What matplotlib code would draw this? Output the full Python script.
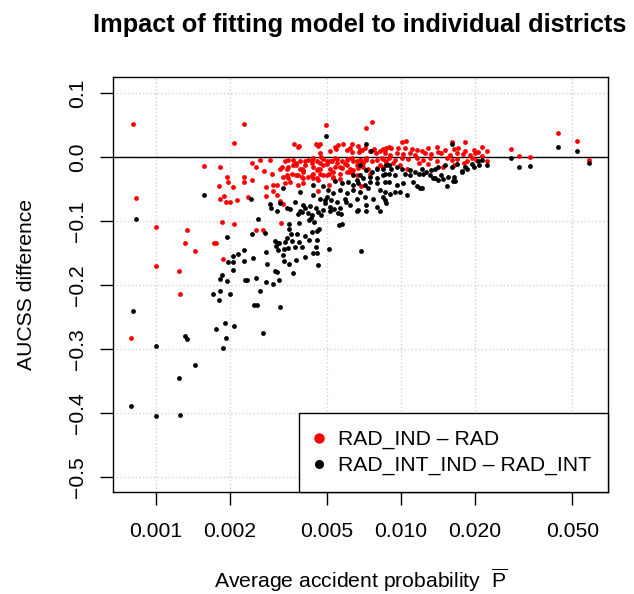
import numpy as np
import matplotlib
matplotlib.use("Agg")
import matplotlib.pyplot as plt
from matplotlib.lines import Line2D

# ------------------------------------------------------------
# Data (average accident probability given in 1/1000, AUCSS difference)
# ------------------------------------------------------------
red_p = [
    0.81, 2.30, 2.08, 4.93, 0.83, 1.57, 1.83, 1.95, 1.97, 1.82, 2.06, 1.90, 1.83,
    1.94, 2.01, 2.15, 2.30, 2.47, 2.30, 2.37, 1.87, 2.08, 1.00, 1.34, 1.32, 1.73,
    1.76, 1.44, 1.00, 1.24, 1.26, 1.89, 2.57, 2.74, 3.23, 0.79, 3.20, 3.29, 6.90,
    7.60, 7.20, 3.65, 3.80, 3.85, 4.50, 4.59, 5.14, 5.43, 5.52, 5.82, 6.29, 6.66,
    6.73, 6.95, 7.48, 7.76, 7.90, 8.45, 8.90, 4.68, 4.72,
    2.92, 3.37, 3.64, 4.06, 4.19, 4.33, 4.54, 4.68, 5.00, 5.22, 5.47, 5.73, 6.00,
    6.30, 6.60, 6.90, 7.20, 7.60, 7.95, 8.33, 8.70,
    3.21, 3.47, 3.73, 3.88, 3.99, 4.39, 4.60, 4.82, 5.14, 5.38, 5.73, 6.00, 6.40,
    6.70, 7.00, 7.36, 7.95, 8.45,
    2.97, 3.31, 3.43, 3.59, 3.82, 3.99, 4.19, 4.33, 4.68, 5.00, 5.30, 5.64, 6.20,
    6.64, 7.48,
    3.11, 3.37, 3.53, 3.80, 3.99, 4.39, 4.60, 5.30, 5.64, 5.07, 3.01, 3.11, 4.60,
    10.1, 10.5, 16.1, 18.2, 14.0, 21.3, 22.4,
    8.7, 9.1, 9.75, 10.4, 11.1, 11.6, 12.2, 12.9, 14.2, 15.1, 16.4, 17.1, 18.2,
    19.8, 20.6,
    8.6, 9.0, 9.6, 10.2, 10.9, 11.4, 12.5, 13.3, 14.6, 15.85, 16.9, 17.9, 19.1,
    20.0, 21.3,
    8.9, 9.45, 10.1, 10.7, 11.6, 12.3, 13.1, 14.0, 15.4, 16.1, 16.9, 18.5, 19.4,
    20.3, 22.4,
    9.3, 9.9, 10.6, 11.8, 12.9, 14.9, 16.4, 18.0,
    28.1, 30.2, 33.6, 43.7, 52.4, 58.2,
    2.47, 2.67, 2.57, 2.77, 2.81, 2.83, 3.00, 3.47, 3.99, 4.54,
    4.68, 5.38, 6.00, 6.20, 6.30, 6.80, 7.13, 8.20, 8.60,
    3.26, 3.42, 3.64, 3.73, 3.88, 3.94, 4.06, 4.33, 4.39, 4.68, 4.82, 5.00, 5.14,
    5.38, 5.47, 5.64, 5.91, 6.10, 6.20, 6.40, 6.60, 6.80, 7.00, 7.20, 8.20, 8.45,
    8.70,
    3.47, 3.73, 3.94, 4.39, 4.54, 4.82, 5.07, 5.30, 6.00, 6.30,
]
red_diff = [
    0.052, 0.052, 0.022, 0.050, -0.064, -0.014, -0.016, -0.032, -0.039, -0.045,
    -0.047, -0.061, -0.066, -0.070, -0.071, -0.067, -0.031, -0.036, -0.039, -0.063,
    -0.102, -0.105, -0.110, -0.114, -0.134, -0.135, -0.134, -0.147, -0.170, -0.178,
    -0.214, -0.159, -0.114, -0.114, -0.103, -0.283, -0.069, -0.073, -0.046,
    0.055, 0.045, 0.020, 0.015, 0.017, 0.021, 0.017, 0.010, 0.0125, 0.018, 0.020,
    0.020, 0.017, 0.008, 0.011, 0.010, 0.012, 0.007, 0.012, 0.016, 0.007, 0.000,
    -0.005, -0.007, -0.005, -0.007, -0.005, -0.004, -0.007, -0.010, -0.007, -0.006,
    -0.003, -0.007, -0.005, -0.002, -0.006, -0.005, -0.004, -0.007, -0.005, -0.002,
    -0.006,
    -0.018, -0.015, -0.0125, -0.018, -0.020, -0.015, -0.018, -0.0125, -0.018,
    -0.015, -0.017, -0.0125, -0.020, -0.017, -0.015, -0.018, -0.017, -0.015,
    -0.026, -0.031, -0.028, -0.026, -0.028, -0.023, -0.031, -0.028, -0.026, -0.028,
    -0.023, -0.027, -0.023, -0.028, -0.026,
    -0.044, -0.041, -0.039, -0.044, -0.041, -0.033, -0.036, -0.033, -0.034, -0.044,
    -0.053, -0.059, -0.053,
    0.024, 0.025, 0.024, 0.024, 0.016, 0.015, 0.010,
    0.0135, 0.0145, 0.0135, 0.0135, 0.0125, 0.011, 0.009, 0.0135, 0.008, 0.011,
    0.0125, 0.0135, 0.009, 0.011, 0.008,
    0.006, 0.003, 0.007, 0.004, 0.006, 0.003, 0.007, 0.004, 0.006, 0.003, 0.006,
    0.004, 0.003, 0.006, 0.002,
    -0.002, -0.005, -0.001, -0.003, -0.002, -0.005, -0.001, -0.006, -0.002, -0.005,
    -0.003, -0.006, -0.002, -0.005, -0.006,
    -0.010, -0.0125, -0.018, -0.010, -0.011, -0.015, -0.0125, -0.010,
    0.0125, 0.002, 0.000, 0.038, 0.025, -0.005,
    -0.009, -0.005, -0.015, -0.022, -0.047, -0.061, -0.043, -0.004, -0.033, -0.020,
    0.020, 0.016, 0.011, 0.0145, 0.008, 0.011, 0.0135, 0.009, 0.011,
    -0.015, -0.018, -0.0125, -0.010, -0.006, -0.018, -0.0125, -0.010, -0.002,
    -0.018, -0.003, -0.011, -0.006, -0.002, -0.010, -0.015, -0.011, -0.003, -0.018,
    -0.007, -0.0125, -0.005, -0.010, -0.002, -0.0125, -0.003, -0.010,
    -0.033, -0.028, -0.031, -0.026, -0.033, -0.028, -0.026, -0.031, -0.024, -0.023,
]

black_p = [
    4.93, 0.83, 1.57, 2.44, 0.81, 1.95, 2.62, 2.47, 2.78, 2.29, 2.16, 2.07, 1.97,
    2.06, 2.06, 2.30, 2.50, 1.87, 1.83, 1.96, 2.31, 2.36, 2.57, 2.82, 2.85, 3.07,
    3.13, 2.82, 3.02, 3.19, 1.72, 1.83, 1.81, 2.00, 2.67, 2.52, 2.60, 3.22, 1.76,
    1.91, 2.08, 1.00, 1.32, 1.34, 1.93, 1.89, 2.74, 1.44, 1.25, 0.79, 1.00, 1.26,
    3.07, 3.15, 3.09, 3.18, 3.50, 3.51, 3.42, 3.55, 3.77, 4.08, 4.33, 4.54, 4.63,
    3.37, 3.60, 3.84, 4.21, 4.56, 3.33, 3.46, 3.70, 3.94, 4.51, 3.14, 3.29, 4.39,
    4.56, 5.07, 3.34, 3.49, 3.72, 4.08, 4.60, 3.63, 6.90,
    2.92, 2.96, 3.43, 3.54, 3.82, 3.96, 4.08, 4.26, 4.51, 4.57, 4.35, 4.80, 4.73,
    4.28, 4.42, 4.21, 3.85, 5.68, 5.75, 5.60, 5.15, 5.35, 4.90, 5.17, 5.47, 5.95,
    7.20, 7.57, 6.80, 7.20, 7.60, 7.95, 8.45, 8.90, 6.40, 6.80, 6.60, 7.00, 7.48,
    7.95, 8.45, 8.90, 5.38, 5.73, 6.10, 6.40, 6.70, 7.13, 7.48, 7.95, 8.60, 4.39,
    4.82, 5.05, 5.30, 5.64, 6.00, 6.40, 6.80, 7.36, 8.20, 3.31, 3.88, 4.39, 4.68,
    5.00, 5.91, 6.60, 7.13, 7.70, 8.45, 3.21, 3.70, 3.99, 4.90, 5.64, 6.20, 6.70,
    7.20, 7.95, 8.70, 3.11, 3.88, 4.19, 5.14, 5.55, 6.60, 7.20, 8.20,
    8.7, 9.1, 9.6, 10.1, 10.9, 11.4, 12.2, 12.7, 13.3, 13.8, 14.2, 15.1, 16.1,
    16.9, 18.2, 19.4, 20.6, 21.3, 22.4, 8.6, 9.45, 10.4, 10.9, 11.8, 12.3, 13.1,
    13.8, 14.6, 15.6, 17.8, 18.5, 8.9, 9.6, 10.2, 11.2, 11.6, 12.2, 13.5, 14.2,
    14.9, 16.4, 16.6, 15.4, 8.6, 9.0, 9.45, 9.9, 10.6, 8.6,
    43.7, 52.4, 58.2, 28.1, 30.2, 33.6, 20.8, 19.8, 17.7, 16.3, 12.0, 16.1,
]
black_diff = [
    0.033, -0.097, -0.059, -0.065, -0.240, -0.125, -0.097, -0.120, -0.119, -0.146,
    -0.152, -0.155, -0.164, -0.164, -0.177, -0.1625, -0.158, -0.184, -0.191, -0.193,
    -0.192, -0.192, -0.189, -0.148, -0.167, -0.178, -0.180, -0.196, -0.198, -0.192,
    -0.214, -0.209, -0.223, -0.214, -0.209, -0.232, -0.232, -0.234, -0.268, -0.259,
    -0.264, -0.295, -0.280, -0.284, -0.283, -0.298, -0.275, -0.325, -0.345, -0.389,
    -0.405, -0.403,
    -0.132, -0.135, -0.139, -0.135, -0.105, -0.1125, -0.126, -0.121, -0.121, -0.123,
    -0.117, -0.115, -0.113, -0.133, -0.131, -0.133, -0.129, -0.130, -0.144, -0.142,
    -0.141, -0.141, -0.141, -0.145, -0.153, -0.150, -0.150, -0.144, -0.1625, -0.167,
    -0.161, -0.156, -0.169, -0.182, -0.147,
    -0.073, -0.079, -0.079, -0.082, -0.089, -0.086, -0.079, -0.076, -0.080, -0.086,
    -0.090, -0.083, -0.091, -0.095, -0.102, -0.098, -0.103, -0.089, -0.104, -0.107,
    -0.078, -0.081, -0.067, -0.067, -0.070, -0.070,
    0.020, 0.009, -0.0125, -0.020, -0.023, -0.018, -0.018, -0.0125, -0.028, -0.028,
    -0.036, -0.033, -0.031, -0.033, -0.028, -0.026, -0.0375, -0.041, -0.039, -0.044,
    -0.041, -0.044, -0.039, -0.041, -0.039, -0.044, -0.046, -0.052, -0.057, -0.052,
    -0.057, -0.052, -0.054, -0.049, -0.052, -0.049, -0.054, -0.059, -0.065, -0.062,
    -0.065, -0.065, -0.062, -0.065, -0.062, -0.072, -0.070, -0.075, -0.072, -0.080,
    -0.075, -0.083, -0.075, -0.078, -0.072, -0.085, -0.085, -0.088, -0.085, -0.088,
    -0.085, -0.085, -0.085,
    -0.0125, -0.018, -0.015, -0.018, -0.020, -0.023, -0.018, -0.023, -0.020, -0.018,
    -0.015, -0.0125, -0.015, -0.011, -0.015, -0.011, -0.007, -0.005, -0.0125, -0.026,
    -0.028, -0.026, -0.028, -0.027, -0.026, -0.028, -0.033, -0.028, -0.031, -0.023,
    -0.018, -0.039, -0.044, -0.041, -0.039, -0.046, -0.049, -0.033, -0.036, -0.034,
    -0.031, -0.0375, -0.046, -0.054, -0.058, -0.055, -0.054, -0.059, -0.067,
    0.016, 0.010, -0.009, -0.001, -0.016, -0.014, -0.0125, -0.015, -0.022, -0.0375,
    -0.048, 0.020,
]

x_ticks = [0.001, 0.002, 0.005, 0.01, 0.02, 0.05]
x_tick_labels = ["0.001", "0.002", "0.005", "0.010", "0.020", "0.050"]
y_ticks = [0.1, 0.0, -0.1, -0.2, -0.3, -0.4, -0.5]
y_tick_labels = ["0.1", "0.0", "\u22120.1", "\u22120.2", "\u22120.3", "\u22120.4", "\u22120.5"]

red_x = np.array(red_p) / 1000.0
black_x = np.array(black_p) / 1000.0

# ------------------------------------------------------------
# Plot
# ------------------------------------------------------------
plt.rcParams["font.family"] = ["Liberation Sans", "DejaVu Sans"]
plt.rcParams["mathtext.fontset"] = "custom"
plt.rcParams["mathtext.sf"] = "Liberation Sans"
plt.rcParams["mathtext.rm"] = "Liberation Sans"

W, H = 634, 594
fig = plt.figure(figsize=(W / 100, H / 100), dpi=100)
ax = fig.add_axes([113 / W, 1 - 492 / H, 495 / W, 415 / H])

ax.set_xscale("log")
ax.set_xlim(0.00067, 0.0698)
ax.set_ylim(-0.5234, 0.125)

ax.set_xticks(x_ticks)
ax.set_xticklabels(x_tick_labels)
ax.xaxis.set_minor_locator(matplotlib.ticker.NullLocator())
ax.set_yticks(y_ticks)
ax.set_yticklabels(y_tick_labels, rotation=90, va="center")

fs = 15.25
ax.tick_params(axis="both", which="major", length=9.4, width=1.0, labelsize=fs,
               color="black")
ax.tick_params(axis="x", pad=12)
ax.tick_params(axis="y", pad=9.5)

ax.grid(True, which="major", color="#D3D3D3", linestyle=":", linewidth=1.0)
ax.set_axisbelow(True)
for sp in ax.spines.values():
    sp.set_linewidth(1.0)
    sp.set_color("black")

ax.axhline(0, color="black", linewidth=1.0, zorder=2)

ax.scatter(red_x, red_diff, s=12, color="red", linewidths=0, zorder=3)
ax.scatter(black_x, black_diff, s=12, color="black", linewidths=0, zorder=3)

handles = [
    Line2D([], [], linestyle="none", marker="o", markersize=6.5, color="red"),
    Line2D([], [], linestyle="none", marker="o", markersize=5.5, color="black"),
]
leg = ax.legend(handles, ["RAD_IND \u2013 RAD", "RAD_INT_IND \u2013 RAD_INT"],
                loc="lower right", borderaxespad=0, fontsize=fs, fancybox=False,
                framealpha=1, edgecolor="black", borderpad=0.78, handlelength=0.32,
                handletextpad=0.75, labelspacing=0.33)
leg.get_frame().set_linewidth(1.0)
leg.set_zorder(5)

fig.text(360 / W, 1 - 32.3 / H, "Impact of fitting model to individual districts",
         ha="center", va="baseline", fontsize=18.3, fontweight="bold")
fig.text(360.5 / W, 1 - 587.5 / H,
         r"Average accident probability  $\overline{\mathsf{P}}$",
         ha="center", va="baseline", fontsize=fs)
fig.text(31.7 / W, 1 - 284.5 / H, "AUCSS difference", rotation=90,
         rotation_mode="anchor", ha="center", va="baseline", fontsize=fs)

fig.savefig("out.png", dpi=100)
